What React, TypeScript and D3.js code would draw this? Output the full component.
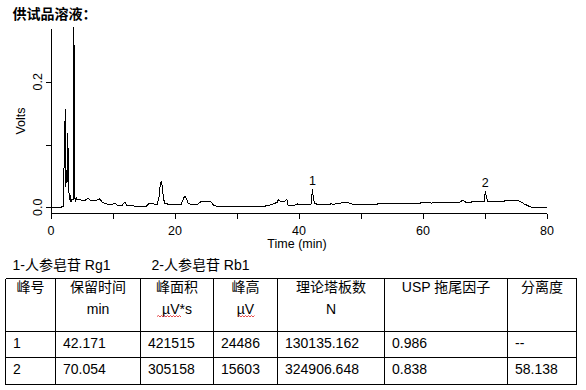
import React from "react";
import * as d3 from "d3";

// Chromatogram trace (time in min, signal in volts)
const times = [
  0, 1.61, 1.77, 2.02, 2.13, 2.19, 2.29, 2.39, 2.48, 2.58, 2.71, 2.81, 2.9, 3.02, 3.11, 3.23, 3.39, 3.6,
  3.7, 3.8, 3.95, 4.06, 4.19, 4.68, 5.32, 5.97, 6.45, 7.26, 7.9, 8.23, 8.87, 9.84, 10.3, 10.8,
  11.45, 11.94, 12.26, 12.9, 13.55, 14.35, 15.3, 15.8, 16.45, 17.1, 17.42, 17.66, 17.82, 17.98, 18.15,
  18.39, 19.2, 20.16, 20.97, 21.37, 21.6, 21.85, 22.1, 22.74, 23.55, 24.2, 25.0, 25.8, 26.29, 27.26,
  29.84, 30.0, 34.5, 35.3, 35.97, 36.45, 36.7, 36.94, 37.4, 37.74, 38.06, 38.23, 38.7, 39.5, 39.84, 40.0,
  40.97, 41.94, 42.08, 42.17, 42.3, 42.5, 42.9, 45.0, 45.16, 45.5, 46.1, 47.1, 48.06, 48.7, 52.6, 52.74,
  59.5, 59.68, 61.13, 61.37, 61.6, 65.97, 66.3, 66.6, 66.94, 67.6, 67.9, 69.84, 69.98, 70.07, 70.25,
  70.5, 73.06, 73.2, 75.16, 75.5, 75.97, 76.45, 76.9, 77.26, 80,
];
const volts = [
  -0.001, -0.001, 0.001, 0.0005, 0.086, 0.088, 0.156, 0.033, 0.059, 0.039, 0.119, 0.049, 0.023, 0.012,
  0.02, 0.009, 0.013, 0.012, 0.287, 0.017, 0.009, 0.0156, 0.0116, 0.0124, 0.01, 0.0143, 0.01,
  0.011, 0.0135, 0.0084, 0.0053, 0.0048, 0.0068, 0.002, 0.003, 0.0084, 0.003, 0.0037, 0.0013, 0.001,
  0.0013, 0.006, 0.0056, 0.0045, 0.0164, 0.0387, 0.0403, 0.031, 0.0132, 0.006, 0.0045, 0.0041, 0.0045,
  0.014, 0.018, 0.014, 0.0064, 0.0041, 0.0045, 0.0089, 0.0092, 0.0084, 0.003, 0.0005, 0.0005, 0.0013,
  0.0018, 0.0037, 0.006, 0.0076, 0.0124, 0.01, 0.0092, 0.01, 0.0124, 0.003, 0.0024, 0.004, 0.0056, 0.004,
  0.0041, 0.0053, 0.0196, 0.0287, 0.0164, 0.0068, 0.0048, 0.0048, 0.006, 0.0048, 0.0056, 0.0076, 0.0068,
  0.0048, 0.0048, 0.006, 0.006, 0.0076, 0.0076, 0.006, 0.0076, 0.008, 0.0108, 0.01, 0.008, 0.0076,
  0.0088, 0.0088, 0.0196, 0.026, 0.0148, 0.0089, 0.0092, 0.0116, 0.0116, 0.01, 0.0076, 0.0045, 0.003,
  0.0005, 0,
];

const xTicks = [0, 10, 20, 30, 40, 50, 60, 70, 80];
const xTickLabels = [0, 20, 40, 60, 80];
const yTicks = [0, 0.1, 0.2];
const yTickLabels = ["0.0", "0.2"];
const yTickLabelValues = [0, 0.2];

const peakLabels = ["1", "2"];
const peakTimes = [42.171, 70.054];
const peakTops = [0.0287, 0.026];

const legendItems = ["1-人参皂苷 Rg1", "2-人参皂苷 Rb1"];

const headerLine1 = ["峰号", "保留时间", "峰面积", "峰高", "理论塔板数", "USP 拖尾因子", "分离度"];
const headerLine2 = ["", "min", "µV*s", "µV", "N", "", ""];
const rowPeak = ["1", "2"];
const rowRT = ["42.171", "70.054"];
const rowArea = ["421515", "305158"];
const rowHeight = ["24486", "15603"];
const rowPlates = ["130135.162", "324906.648"];
const rowTailing = ["0.986", "0.838"];
const rowResolution = ["--", "58.138"];

const FONT = "'Liberation Sans', Arial, 'Noto Sans CJK SC', sans-serif";

export default function App() {
  const x = d3.scaleLinear().domain([0, 80]).range([51, 547]);
  const y = d3.scaleLinear().domain([0, 0.2]).range([207.3, 81.7]);
  const pts: [number, number][] = times.map((t, i) => [t, volts[i]]);
  const line = d3
    .line<[number, number]>()
    .x((d) => x(d[0]))
    .y((d) => y(d[1]));

  const axisY = 213.5;
  const axisX = 51.5;

  const colEdges = [5.5, 55.5, 140.5, 213.5, 277.5, 384.5, 507.5, 576.5];
  const rowEdges = [278.5, 331.5, 357.5, 384.5];
  const rows = rowPeak.map((p, i) => [p, rowRT[i], rowArea[i], rowHeight[i], rowPlates[i], rowTailing[i], rowResolution[i]]);
  const rowBaselines = [348.3, 374.2];

  const squiggle = (x0: number, x1: number, yy: number) => {
    let d = `M${x0},${yy}`;
    let up = true;
    for (let xx = x0 + 1.5; xx <= x1; xx += 1.5) {
      d += ` L${xx},${up ? yy - 1 : yy + 0.5}`;
      up = !up;
    }
    return d;
  };

  return (
    <svg
      width={586}
      height={390}
      style={{ position: "absolute", left: 0, top: 0, background: "#fff" }}
      fontFamily={FONT}
    >
      <rect x={0} y={0} width={586} height={390} fill="#fff" />
      <text x={12.5} y={18.5} fontSize={14} fontWeight="bold" fill="#000">
        供试品溶液：
      </text>

      {/* axes */}
      <g stroke="#000" strokeWidth={1} shapeRendering="crispEdges">
        <line x1={axisX} x2={axisX} y1={29} y2={axisY} />
        <line x1={x(0)} x2={x(80)} y1={axisY} y2={axisY} />
        {xTicks.map((t) => (
          <line key={t} x1={Math.round(x(t)) + 0.5} x2={Math.round(x(t)) + 0.5} y1={axisY} y2={axisY + 5} />
        ))}
        {yTicks.map((v) => (
          <line key={v} x1={axisX - 6} x2={axisX} y1={Math.round(y(v)) + 0.5} y2={Math.round(y(v)) + 0.5} />
        ))}
      </g>
      {xTickLabels.map((t) => (
        <text key={t} x={x(t)} y={235} fontSize={12.5} textAnchor="middle" fill="#000">
          {t}
        </text>
      ))}
      {yTickLabelValues.map((v, i) => (
        <text
          key={v}
          transform={`translate(41.5,${y(v)}) rotate(-90)`}
          fontSize={12.5}
          textAnchor="middle"
          fill="#000"
        >
          {yTickLabels[i]}
        </text>
      ))}
      <text transform="translate(25,121) rotate(-90)" fontSize={12.5} textAnchor="middle" fill="#000">
        Volts
      </text>
      <text x={297} y={247.5} fontSize={12.5} textAnchor="middle" fill="#000">
        Time (min)
      </text>

      <path d={line(pts) || ""} fill="none" stroke="#000" strokeWidth={1} shapeRendering="crispEdges" />
      {peakLabels.map((lab, i) => (
        <text key={lab} x={x(peakTimes[i])} y={y(peakTops[i]) - 4} fontSize={12.5} textAnchor="middle" fill="#000">
          {lab}
        </text>
      ))}

      {/* legend */}
      {legendItems.map((s, i) => (
        <text key={s} x={i === 0 ? 12.5 : 151.5} y={269.5} fontSize={14} fill="#000">
          {s}
        </text>
      ))}

      {/* table */}
      <g stroke="#000" strokeWidth={1} shapeRendering="crispEdges">
        {colEdges.map((cx, i) => (
          <line key={"c" + i} x1={cx} x2={cx} y1={rowEdges[0]} y2={rowEdges[3]} />
        ))}
        {rowEdges.map((ry, i) => (
          <line key={"r" + i} x1={colEdges[0]} x2={colEdges[7]} y1={ry} y2={ry} />
        ))}
      </g>
      {headerLine1.map((h, i) => (
        <text key={"h1" + i} x={(colEdges[i] + colEdges[i + 1]) / 2} y={292} fontSize={14} textAnchor="middle" fill="#000">
          {h}
        </text>
      ))}
      {headerLine2.map((h, i) =>
        h ? (
          <text key={"h2" + i} x={(colEdges[i] + colEdges[i + 1]) / 2} y={313.5} fontSize={14} textAnchor="middle" fill="#000">
            {h}
          </text>
        ) : null
      )}
      <path d={squiggle(157, 182, 316.5)} fill="none" stroke="#e02020" strokeWidth={0.8} />
      <path d={squiggle(238, 255, 316.5)} fill="none" stroke="#e02020" strokeWidth={0.8} />
      {rows.map((r, ri) =>
        r.map((cell, ci) => (
          <text key={ri + "-" + ci} x={colEdges[ci] + 7.5} y={rowBaselines[ri]} fontSize={14} fill="#000">
            {cell}
          </text>
        ))
      )}
    </svg>
  );
}
